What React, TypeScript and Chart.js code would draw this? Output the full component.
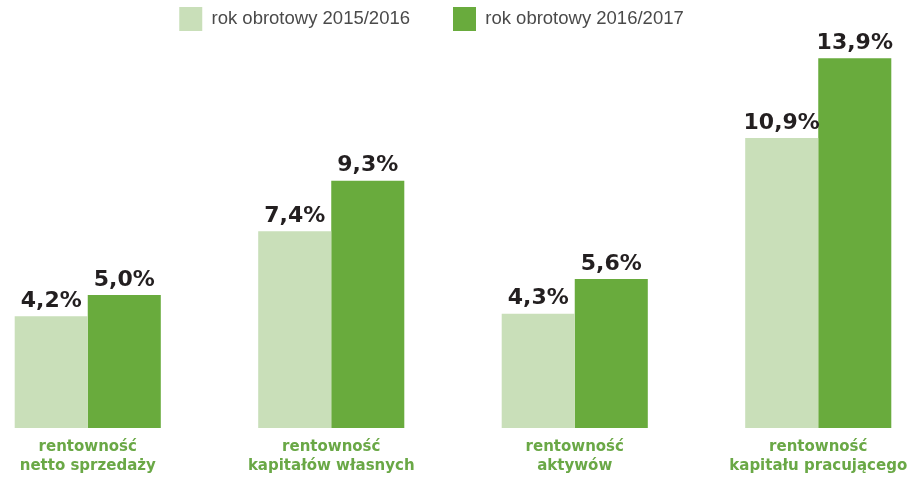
import React, { useEffect, useRef } from "react";
import { Chart, registerables } from "chart.js";

Chart.register(...registerables);

const categories: string[][] = [
  ["rentowność", "netto sprzedaży"],
  ["rentowność", "kapitałów własnych"],
  ["rentowność", "aktywów"],
  ["rentowność", "kapitału pracującego"],
];
const seriesNames = ["rok obrotowy 2015/2016", "rok obrotowy 2016/2017"];
const values2016 = [4.2, 7.4, 4.3, 10.9];
const values2017 = [5.0, 9.3, 5.6, 13.9];

const LIGHT = "#c9dfb9";
const DARK = "#69ab3d";
const LABEL_GREEN = "#6aa846";

const valueLabels = {
  id: "valueLabels",
  afterDatasetsDraw(chart: any) {
    const ctx = chart.ctx;
    ctx.save();
    ctx.font = "bold 22px 'DejaVu Sans'";
    ctx.fillStyle = "#231f20";
    ctx.textAlign = "center";
    ctx.textBaseline = "alphabetic";
    chart.data.datasets.forEach((ds: any, di: number) => {
      const meta = chart.getDatasetMeta(di);
      meta.data.forEach((el: any, i: number) => {
        const v = ds.data[i] as number;
        const txt = v.toFixed(1).replace(".", ",") + "%";
        ctx.fillText(txt, el.x, el.y - 9.5);
      });
    });
    ctx.restore();
  },
};

export default function App() {
  const ref = useRef<HTMLCanvasElement>(null);
  useEffect(() => {
    if (!ref.current) return;
    const chart = new Chart(ref.current, {
      type: "bar",
      data: {
        labels: categories,
        datasets: [
          { label: seriesNames[0], data: values2016, backgroundColor: LIGHT },
          { label: seriesNames[1], data: values2017, backgroundColor: DARK },
        ],
      },
      options: {
        animation: false,
        responsive: false,
        devicePixelRatio: 1,
        layout: { padding: 0 },
        datasets: { bar: { categoryPercentage: 0.6, barPercentage: 1.0 } } as any,
        plugins: {
          legend: {
            display: true,
            position: "top",
            labels: {
              boxWidth: 23,
              boxHeight: 24,
              padding: 43,
              color: "#4a4a4a",
              font: { family: "'Liberation Sans'", size: 18.5, weight: "normal" },
            },
          },
          tooltip: { enabled: false },
        },
        scales: {
          x: {
            grid: { display: false },
            border: { display: false },
            ticks: {
              color: LABEL_GREEN,
              padding: 2,
              font: { family: "'DejaVu Sans'", size: 15, weight: "bold", lineHeight: 1.25 },
              maxRotation: 0,
              autoSkip: false,
            },
            afterFit: (s: any) => {
              s.height = 59;
            },
          },
          y: {
            min: 0,
            max: 14.55,
            display: true,
            grid: { display: false },
            border: { display: false },
            ticks: { display: false },
            afterFit: (s: any) => {
              s.width = 43;
            },
          },
        },
      },
      plugins: [valueLabels],
    });
    return () => chart.destroy();
  }, []);
  return (
    <div
      style={{
        position: "fixed",
        left: 0,
        top: 0,
        width: 919,
        height: 487,
        overflow: "hidden",
        background: "#ffffff",
      }}
    >
      <canvas
        ref={ref}
        width={1017}
        height={523}
        style={{ position: "absolute", left: -77, top: -36, width: 1017, height: 523 }}
      />
    </div>
  );
}
